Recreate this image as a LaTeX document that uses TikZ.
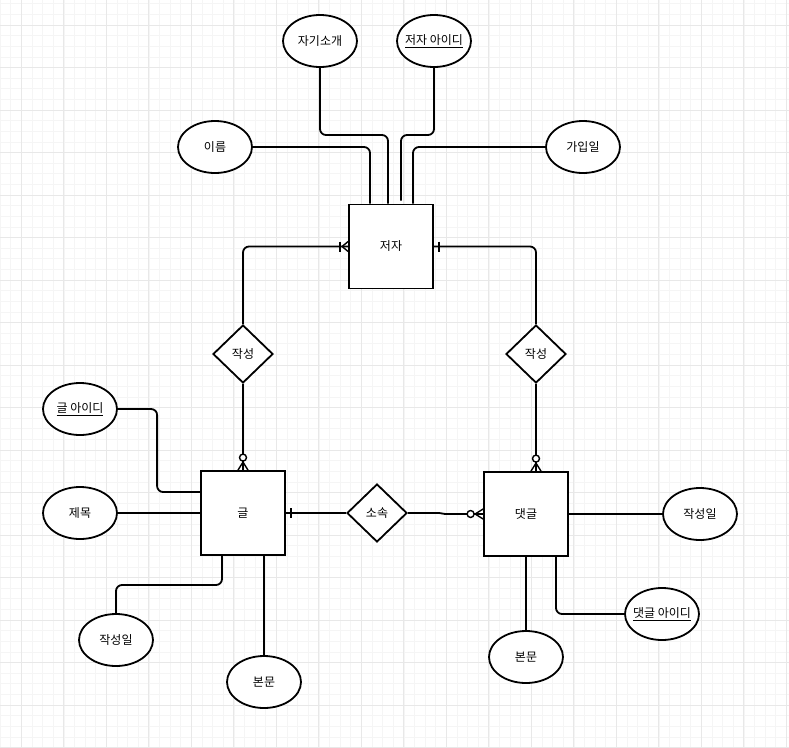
\documentclass[tikz,border=0pt]{standalone}
\usepackage{fontspec}
\setmainfont{Noto Sans CJK KR}
\usetikzlibrary{shapes.geometric}
\tikzset{
  entity/.style={draw, line width=1.8pt, fill=white, minimum width=84pt, minimum height=84pt, inner sep=0pt},
  attr/.style={draw, line width=1.8pt, fill=white, ellipse, minimum width=74pt, minimum height=52pt, inner sep=0pt},
  rel/.style={draw, line width=1.8pt, fill=white, diamond, minimum width=60pt, minimum height=58pt, inner sep=0pt},
  conn/.style={line width=1.8pt, rounded corners=6pt},
  ermark/.style={line width=1.4pt},
  minorgrid/.style={draw=black!4, line width=0.6pt},
  majorgrid/.style={draw=black!9, line width=0.8pt},
}
\newcommand{\fixw}[1]{\makebox[0pt]{#1}}
\begin{document}
\begin{tikzpicture}[x=1pt, y=-1pt, font=\fontsize{12pt}{14pt}\selectfont]
\useasboundingbox (0,0) rectangle (789,747);
\fill[white] (0,0) rectangle (789,747);
% grid
\foreach \i in {0,...,74} {
  \draw[minorgrid] ({0.05+10.625*\i},0) -- ({0.05+10.625*\i},747);
  \draw[minorgrid] (0,{3.75+10.625*\i}) -- (789,{3.75+10.625*\i});
}
\foreach \i in {0,...,18} {
  \draw[majorgrid] ({21.3+42.5*\i},0) -- ({21.3+42.5*\i},747);
  \draw[majorgrid] (0,{25+42.5*\i}) -- (789,{25+42.5*\i});
}

% entities
\node[entity] (jeoja) at (391,246.5) {저자};
\node[entity] (geul) at (243,513) {글};
\node[entity] (daet) at (526,514) {댓글};

% relationships
\node[rel] (jak1) at (243,354) {작성};
\node[rel] (jak2) at (536,354) {작성};
\node[rel] (sosok) at (377,513) {소속};

% attributes
\node[attr] (jagi) at (320,41) {\fixw{자기소개}};
\node[attr] (jid) at (434,41) {\fixw{\underline{저자 아이디}}};
\node[attr] (ireum) at (215,147) {\fixw{이름}};
\node[attr] (gaip) at (583,147) {\fixw{가입일}};
\node[attr] (gid) at (80,409) {\fixw{\underline{글 아이디}}};
\node[attr] (jemok) at (80,513) {\fixw{제목}};
\node[attr] (jsi1) at (116,640) {\fixw{작성일}};
\node[attr] (bon1) at (264,682) {\fixw{본문}};
\node[attr] (jsi2) at (700,514) {\fixw{작성일}};
\node[attr] (did) at (662,614) {\fixw{\underline{댓글 아이디}}};
\node[attr] (bon2) at (526,657) {\fixw{본문}};

% connectors: 저자 attributes
\draw[conn] (ireum.east) -| ([xshift=-21pt]jeoja.north);
\draw[conn] (jagi.south) |- (388,135) -- ([xshift=-3pt]jeoja.north);
\draw[conn] (jid.south) |- (401,135) -- ([xshift=10pt,yshift=3pt]jeoja.north);
\draw[conn] (gaip.west) -| ([xshift=22pt]jeoja.north);

% 작성 (글)
\draw[conn] (jak1.north) |- (jeoja.west);
\draw[conn] (jak1.south) -- (geul.north);
% 작성 (댓글)
\draw[conn] (jak2.north) |- (jeoja.east);
\draw[conn] (jak2.south) -- (jak2.south |- daet.north);
% 소속
\draw[conn] (geul.east) -- (sosok.west);
\draw[conn, rounded corners=0pt] (sosok.east) -- ([xshift=-44pt,yshift=1pt]daet.west) -- ([xshift=-38pt]daet.west) -- (daet.west);

% 글 attributes
\draw[conn] (gid.east) -| ([xshift=-43pt,yshift=21pt]geul.west) -- ([yshift=21pt]geul.west);
\draw[conn] (jemok.east) -- (geul.west);
\draw[conn] ([xshift=-21pt]geul.south) |- (116,585) -- (jsi1.north);
\draw[conn] ([xshift=21pt]geul.south) -- (bon1.north);

% 댓글 attributes
\draw[conn] (daet.east) -- (jsi2.west);
\draw[conn] ([xshift=30pt]daet.south) |- (did.west);
\draw[conn] (daet.south) -- (bon2.north);

% markers: 저자 west (one to many)
\draw[ermark] ([xshift=-8pt,yshift=5pt]jeoja.west) -- ([xshift=-8pt,yshift=-5pt]jeoja.west);
\draw[ermark] ([xshift=-6pt]jeoja.west) -- ([yshift=5pt]jeoja.west);
\draw[ermark] ([xshift=-6pt]jeoja.west) -- ([yshift=-5pt]jeoja.west);
% 저자 east (one)
\draw[ermark] ([xshift=5pt,yshift=5pt]jeoja.east) -- ([xshift=5pt,yshift=-5pt]jeoja.east);
% 글 east (one)
\draw[ermark] ([xshift=5pt,yshift=5pt]geul.east) -- ([xshift=5pt,yshift=-5pt]geul.east);
% 글 north (zero to many)
\draw[ermark, fill=white] ([yshift=12.5pt]geul.north) circle (3.5pt);
\draw[ermark] ([yshift=8pt]geul.north) -- ([xshift=-5pt]geul.north);
\draw[ermark] ([yshift=8pt]geul.north) -- ([xshift=5pt]geul.north);
% 댓글 north (zero to many)
\coordinate (dn) at (jak2.south |- daet.north);
\draw[ermark, fill=white] ([yshift=12.5pt]dn) circle (3.5pt);
\draw[ermark] ([yshift=8pt]dn) -- ([xshift=-5pt]dn);
\draw[ermark] ([yshift=8pt]dn) -- ([xshift=5pt]dn);
% 댓글 west (zero to many)
\draw[ermark, fill=white] ([xshift=-12.5pt]daet.west) circle (3.5pt);
\draw[ermark] ([xshift=-8pt]daet.west) -- ([yshift=5pt]daet.west);
\draw[ermark] ([xshift=-8pt]daet.west) -- ([yshift=-5pt]daet.west);
\end{tikzpicture}
\end{document}
